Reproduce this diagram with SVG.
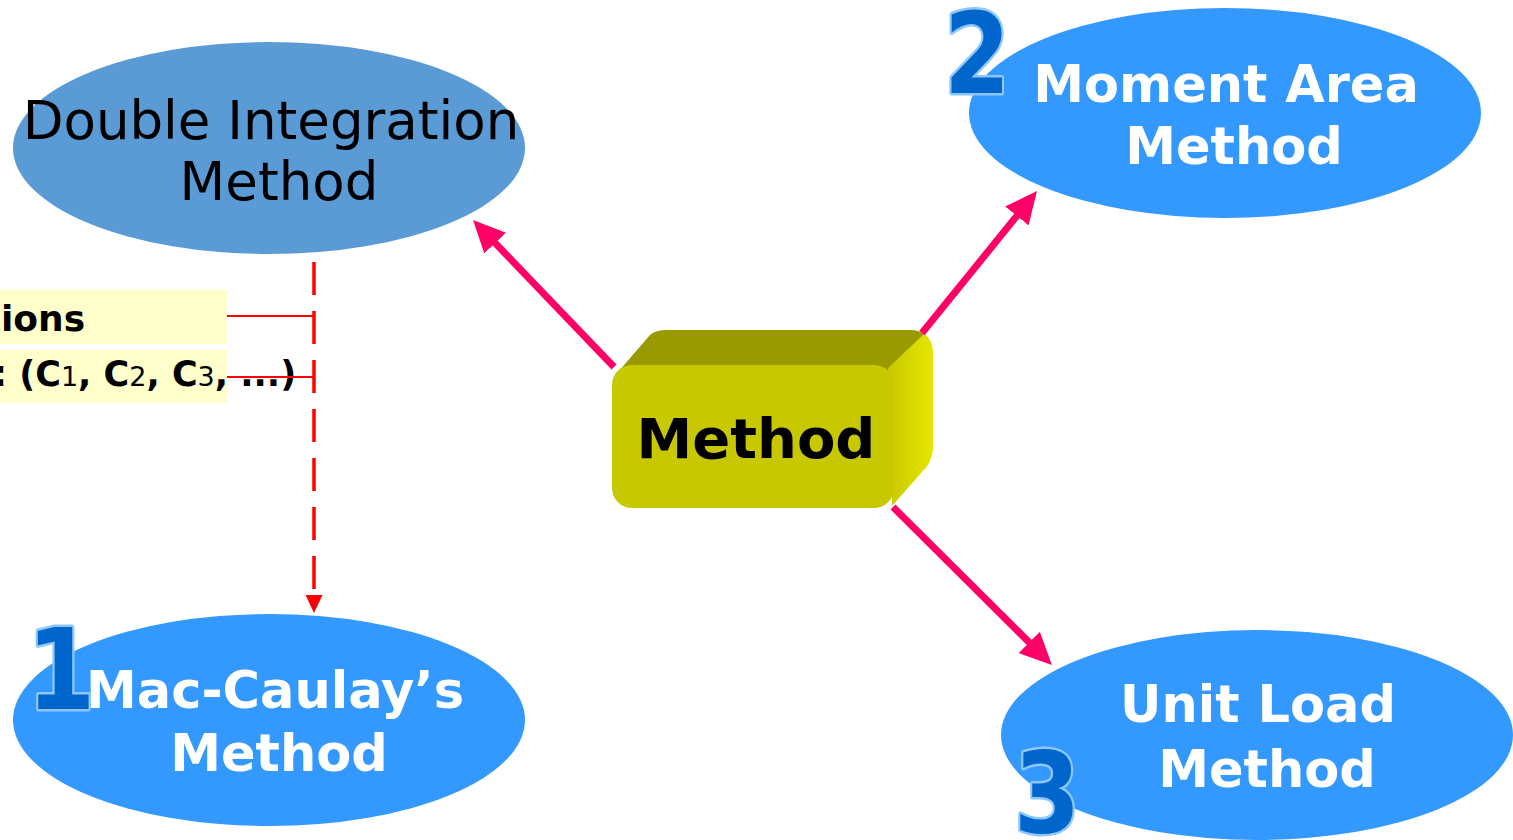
<svg xmlns="http://www.w3.org/2000/svg" width="1513" height="840" viewBox="0 0 1513 840">
  <style>
    .title { font-family: "DejaVu Sans", Verdana, sans-serif; text-anchor: middle; }
    .bold-w { font-weight: bold; fill: #ffffff; font-size: 51px; }
    .reg-k { fill: #000000; font-size: 53px; }
    .num { font-family: "DejaVu Sans", Verdana, sans-serif; font-weight: bold; font-size: 112px; fill: #0066CC; stroke: #8EC6FF; stroke-width: 5; paint-order: stroke; stroke-linejoin: round; text-anchor: middle; }
    .note { font-family: "DejaVu Sans", Verdana, sans-serif; font-weight: bold; font-size: 36px; fill: #000000; }
    .note2 { font-size: 35px; }
    .sub { font-weight: normal; font-size: 27px; }
    .pink { stroke: #FF0066; stroke-width: 7; fill: none; }
    .lead { stroke: #FF0000; stroke-width: 1.8; fill: none; }
  </style>
  <defs>
    <marker id="pinkHead" markerUnits="userSpaceOnUse" markerWidth="32" markerHeight="30" viewBox="0 0 32 30" refX="4" refY="15" orient="auto">
      <path d="M0,0 L32,15 L0,30 Z" fill="#FF0066"/>
    </marker>
    <marker id="redHead" markerUnits="userSpaceOnUse" markerWidth="18" markerHeight="17" viewBox="0 0 18 17" refX="1" refY="8.5" orient="auto">
      <path d="M0,0 L18,8.5 L0,17 Z" fill="#FF0000"/>
    </marker>
    <linearGradient id="sideFace" x1="0" y1="0" x2="1" y2="0">
      <stop offset="0" stop-color="#C8C800"/>
      <stop offset="1" stop-color="#E6E600"/>
    </linearGradient>
  </defs>

  <!-- side notes with leader lines -->
  <g id="notes">
    <rect x="0" y="290" width="227" height="54" fill="#FFFFCC"/>
    <rect x="0" y="350" width="227" height="53" fill="#FFFFCC"/>
    <text class="note" x="1" y="331">ions</text>
    <text class="note note2" x="-7" y="386">: (C<tspan class="sub">1</tspan>, C<tspan class="sub">2</tspan>, C<tspan class="sub">3</tspan>, ...)</text>
  </g>

  <!-- ellipse nodes -->
  <g id="node-double">
    <ellipse cx="269" cy="148" rx="256" ry="106" fill="#5B9BD5"/>
    <text class="title reg-k" x="271" y="139">Double Integration</text>
    <text class="title reg-k" x="279" y="200">Method</text>
  </g>
  <g id="node-moment">
    <ellipse cx="1225" cy="113" rx="256" ry="105" fill="#3399FF"/>
    <text class="title bold-w" x="1226" y="102">Moment Area</text>
    <text class="title bold-w" x="1234" y="164">Method</text>
  </g>
  <g id="node-maccaulay">
    <ellipse cx="269" cy="720" rx="256" ry="106" fill="#3399FF"/>
    <text class="title bold-w" x="275" y="708">Mac-Caulay’s</text>
    <text class="title bold-w" x="279" y="771">Method</text>
  </g>
  <g id="node-unitload">
    <ellipse cx="1257" cy="735" rx="256" ry="105" fill="#3399FF"/>
    <text class="title bold-w" x="1258" y="722">Unit Load</text>
    <text class="title bold-w" x="1267" y="787">Method</text>
  </g>

  <!-- central 3D block -->
  <g id="node-method">
    <path d="M618,372 L650,335 Q655,330 668,330 L912,330 Q928,331 932,347 L894,372 Z" fill="#999900"/>
    <path d="M888,368 L924,334 Q933,340 933,352 L933,450 Q932,462 922,472 L892,506 Z" fill="url(#sideFace)"/>
    <rect x="612" y="365" width="282" height="143" rx="20" fill="#C8C800"/>
    <text class="title" x="756" y="458" font-size="56" font-weight="bold" fill="#000000">Method</text>
  </g>

  <!-- connectors -->
  <g id="connectors">
    <line class="pink" x1="614" y1="367" x2="492.4" y2="240.2" marker-end="url(#pinkHead)"/>
    <line class="pink" x1="922" y1="333" x2="1019.4" y2="212.8" marker-end="url(#pinkHead)"/>
    <line class="pink" x1="893" y1="507" x2="1032.1" y2="645.3" marker-end="url(#pinkHead)"/>
    <line x1="314" y1="262" x2="314" y2="596" stroke="#FF0000" stroke-width="3.5" stroke-dasharray="33 16" marker-end="url(#redHead)"/>
    <line class="lead" x1="227" y1="316" x2="314" y2="316"/>
    <line class="lead" x1="227" y1="377" x2="314" y2="377"/>
  </g>

  <!-- step numbers -->
  <g id="numbers">
    <text class="num" transform="translate(61,709) scale(0.88,1)">1</text>
    <text class="num" transform="translate(977,93) scale(0.85,1)">2</text>
    <text class="num" transform="translate(1047,832) scale(0.85,1)">3</text>
  </g>
</svg>
